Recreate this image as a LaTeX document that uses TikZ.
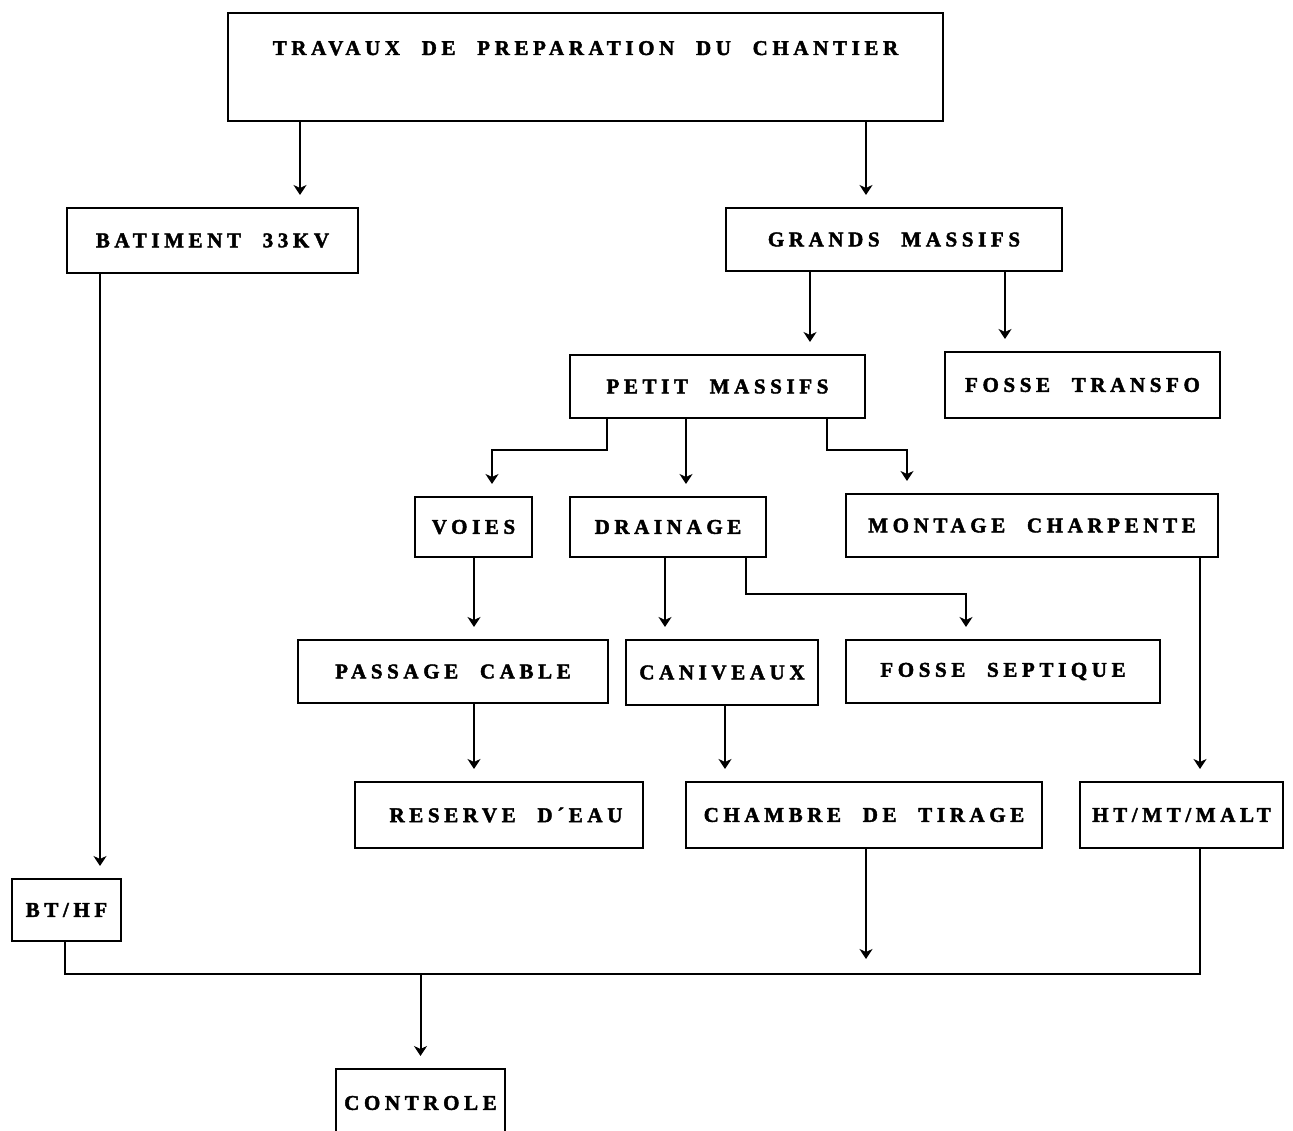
\documentclass[tikz,border=0pt]{standalone}
\usepackage{fontspec}
\newfontfamily\dmfont{Liberation Serif}[LetterSpace=22,WordSpace=2.2,BoldFeatures={FakeBold=2}]
\usetikzlibrary{arrows.meta}
\begin{document}
\begin{tikzpicture}[x=1pt,y=-1pt,
  box/.style={draw,line width=2pt,inner sep=0pt,font=\dmfont\bfseries\fontsize{21}{24}\selectfont},
  conn/.style={line width=2pt},
  arr/.style={conn,-{Stealth[length=10pt,width=13pt,inset=3pt]},shorten >=12pt}]
\useasboundingbox[fill=white] (0,0) rectangle (1293,1131);
% boxes: center from corners
\newcommand\mkbox[6]{%
  \node[box,minimum width=#4-#2,minimum height=#5-#3] (#1) at ({(#2+#4)/2},{(#3+#5)/2}) {#6};}
\node[box,minimum width=715,text height=42,text depth=66] (trav) at (585.5,12) [anchor=north] {TRAVAUX DE PREPARATION DU CHANTIER};
\mkbox{bat}{67}{208}{358}{273}{BATIMENT 33KV}
\mkbox{gra}{726}{208}{1062}{271}{GRANDS MASSIFS}
\mkbox{pet}{570}{355}{865}{418}{PETIT MASSIFS}
\mkbox{fos}{945}{352}{1220}{418}{FOSSE TRANSFO}
\mkbox{voi}{415}{497}{532}{557}{VOIES}
\mkbox{dra}{570}{497}{766}{557}{DRAINAGE}
\mkbox{mon}{846}{494}{1218}{557}{MONTAGE CHARPENTE}
\mkbox{pas}{298}{640}{608}{703}{PASSAGE CABLE}
\mkbox{can}{626}{640}{818}{705}{CANIVEAUX}
\mkbox{sep}{846}{640}{1160}{703}{FOSSE SEPTIQUE}
\mkbox{res}{355}{782}{643}{848}{\hspace{14pt}RESERVE D\textasciiacute EAU}
\mkbox{cha}{686}{782}{1042}{848}{CHAMBRE DE TIRAGE}
\mkbox{ht}{1080}{782}{1283}{848}{HT/MT/MALT}
\mkbox{bt}{12}{879}{121}{941}{BT/HF}
\mkbox{con}{336}{1069}{505}{1137}{CONTROLE}
% connectors
\draw[arr] (trav.south -| 300,0) -- (bat.north -| 300,0);
\draw[arr] (trav.south -| 866,0) -- (gra.north -| 866,0);
\draw[arr] (gra.south -| 810,0) -- (pet.north -| 810,0);
\draw[arr] (gra.south -| 1005,0) -- (fos.north -| 1005,0);
\coordinate (pv) at (607,450);
\coordinate (pm) at (827,450);
\draw[arr] (pet.south -| pv) -- (pv) -- (pv -| 492,0) -- (voi.north -| 492,0);
\draw[arr] (pet.south -| 686,0) -- (dra.north -| 686,0);
\draw[arr] (pet.south -| pm) -- (pm) -- (pm -| 907,0) -- (mon.north -| 907,0);
\draw[arr] (voi.south -| 474,0) -- (pas.north -| 474,0);
\draw[arr] (dra.south -| 665,0) -- (can.north -| 665,0);
\coordinate (ds) at (746,594);
\draw[arr] (dra.south -| ds) -- (ds) -- (ds -| 966,0) -- (sep.north -| 966,0);
\draw[arr] (pas.south -| 474,0) -- (res.north -| 474,0);
\draw[arr] (can.south -| 725,0) -- (cha.north -| 725,0);
\draw[arr] (mon.south -| 1200,0) -- (ht.north -| 1200,0);
\draw[arr] (bat.south -| 100,0) -- (bt.north -| 100,0);
\coordinate (busL) at (65,974);
\coordinate (busR) at (1200,974);
\draw[conn] (bt.south -| busL) -- (busL) -- (busR) -- (ht.south -| busR);
\draw[arr,shorten >=15pt] (cha.south -| 866,0) -- (busL -| 866,0);
\draw[arr] (busL -| con.north) -- (con.north);
\end{tikzpicture}
\end{document}
